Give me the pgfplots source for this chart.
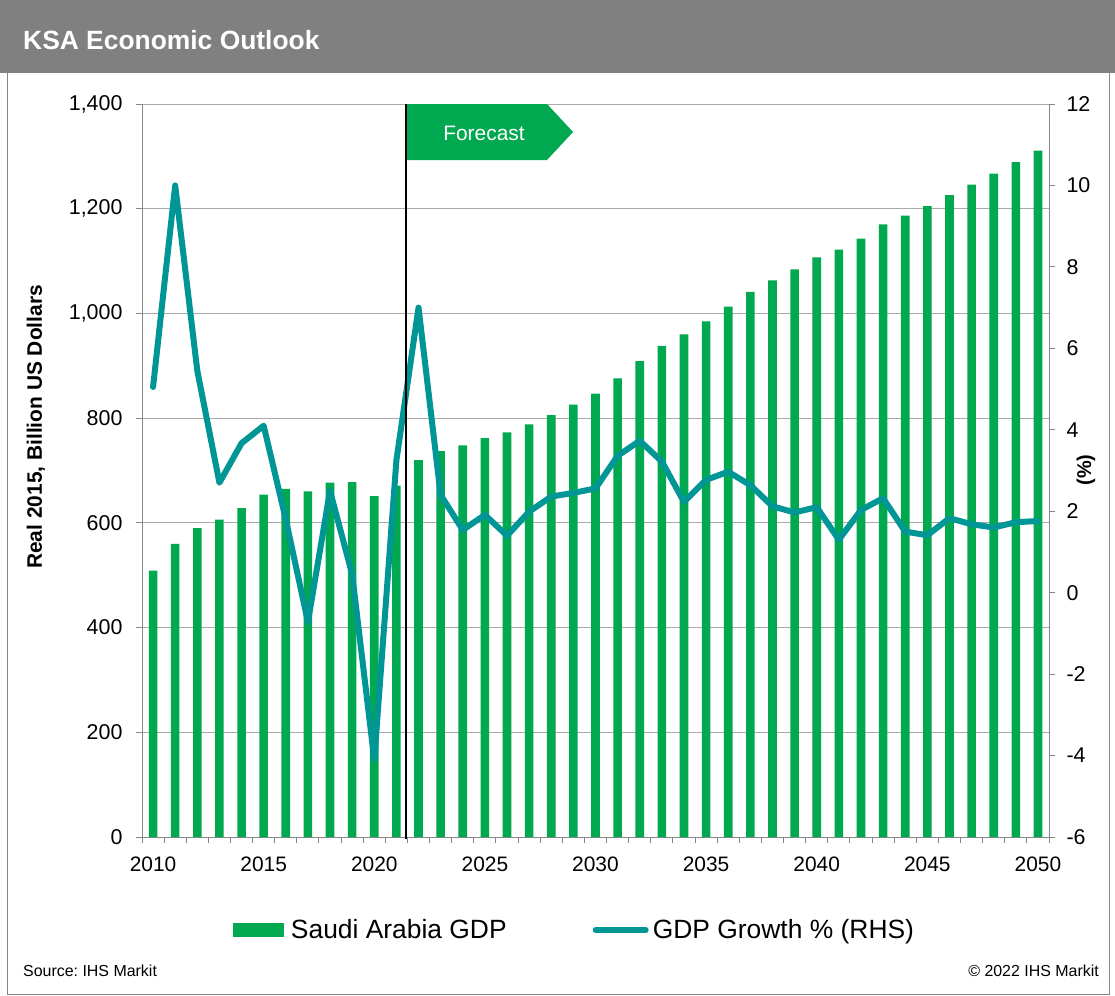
\documentclass[border=0pt]{standalone}
\usepackage{fontspec}
\setmainfont{Liberation Sans}
\usepackage{pgfplots}
\usepackage{pgfplotstable}
\pgfplotsset{compat=1.18}
\definecolor{ksagreen}{RGB}{0,168,80}
\definecolor{ksateal}{RGB}{0,150,150}
\definecolor{axisgray}{RGB}{134,134,134}
\definecolor{gridgray}{RGB}{170,170,170}
\definecolor{titlegray}{RGB}{128,128,128}
\frenchspacing

\pgfplotstableread{
year gdp growth
2010 509 5.05
2011 560 10.0
2012 590 5.45
2013 606 2.70
2014 628 3.67
2015 654 4.10
2016 665 1.80
2017 660 -0.72
2018 677 2.50
2019 678 0.45
2020 651 -4.10
2021 671 3.25
2022 720 7.0
2023 737 2.40
2024 748 1.54
2025 762 1.91
2026 773 1.40
2027 788 1.99
2028 806 2.36
2029 826 2.45
2030 847 2.56
2031 876 3.36
2032 909 3.73
2033 938 3.22
2034 960 2.23
2035 985 2.77
2036 1013 2.97
2037 1041 2.64
2038 1063 2.12
2039 1084 1.97
2040 1107 2.10
2041 1122 1.30
2042 1143 2.03
2043 1170 2.32
2044 1187 1.50
2045 1205 1.41
2046 1226 1.83
2047 1246 1.68
2048 1267 1.60
2049 1289 1.73
2050 1311 1.76
}\ksadata

\begin{document}
\begin{tikzpicture}
\path[use as bounding box] (0bp,0bp) rectangle (1115bp,-996bp);
\fill[titlegray] (0bp,0bp) rectangle (1115bp,-73bp);
\draw[axisgray, line width=1bp] (7bp,-73bp) -- (7bp,-994bp) -- (1109bp,-994bp) -- (1109bp,-73bp);
\node[anchor=west, text=white, inner sep=0pt, font=\bfseries\fontsize{26.5}{30}\selectfont] at (23bp,-40bp) {KSA Economic Outlook};

\begin{axis}[
  at={(142bp,-837bp)}, anchor=south west,
  scale only axis, width=907bp, height=733bp,
  xmin=2009.5, xmax=2050.5, ymin=0, ymax=1400,
  axis x line*=bottom, axis y line*=left,
  axis line style={axisgray, line width=1bp},
  tick align=outside,
  xtick={2010,2015,...,2050},
  major x tick style={draw=none},
  minor xtick={2009.5,2010.5,...,2050.5},
  minor x tick style={axisgray, line width=1bp},
  minor tick length=6bp,
  major tick length=6bp,
  ytick={0,200,...,1400},
  y tick style={axisgray, line width=1bp},
  ymajorgrids,
  major grid style={gridgray, line width=1bp},
  xticklabel style={font=\fontsize{21}{24}\selectfont, yshift=-10bp},
  yticklabel style={font=\fontsize{21.5}{24}\selectfont, xshift=-10bp},
  /pgf/number format/assume math mode=true,
  xticklabel={\pgfmathprintnumber[1000 sep={}]{\tick}},
  yticklabel={\pgfmathprintnumber[1000 sep={,}]{\tick}},
  legend columns=2,
  legend style={draw=none, fill=none, inner sep=0pt, outer sep=0pt,
    at={(0.1003,-0.1269)}, anchor=west,
    font=\fontsize{26.5}{30}\selectfont,
    nodes={inner sep=0pt},
    /tikz/every even column/.append style={column sep=86bp}},
]
\addplot[ybar, bar width=8.6bp, fill=ksagreen, draw=none,
  legend image code/.code={\fill[ksagreen] (0bp,-7bp) rectangle (51bp,7bp); \path (58bp,0bp);}]
  table[x=year, y=gdp] {\ksadata};
\addlegendentry{Saudi Arabia GDP}
\addlegendimage{legend image code/.code={\draw[ksateal, line width=6bp, line cap=round] (3bp,0bp) -- (53bp,0bp); \path (60bp,0bp);}}
\addlegendentry{GDP Growth \% (RHS)}
\end{axis}

\begin{axis}[
  at={(142bp,-837bp)}, anchor=south west,
  scale only axis, width=907bp, height=733bp,
  xmin=2009.5, xmax=2050.5, ymin=-6, ymax=12,
  axis x line=none, axis y line*=right,
  axis line style={axisgray, line width=1bp},
  tick align=outside,
  major tick length=6bp,
  ytick={-6,-4,...,12},
  y tick style={axisgray, line width=1bp},
  yticklabel style={font=\fontsize{21.5}{24}\selectfont, xshift=8bp},
  /pgf/number format/assume math mode=true,
]
\addplot[ksateal, line width=6bp, line join=round, line cap=round, mark=none]
  table[x=year, y=growth] {\ksadata};
\end{axis}

\fill[ksagreen] (406bp,-104bp) -- (547bp,-104bp) -- (573bp,-132bp) -- (547bp,-160bp) -- (406bp,-160bp) -- cycle;
\draw[black, line width=1.5bp] (406bp,-104bp) -- (406bp,-839bp);
\node[text=white, font=\fontsize{21}{24}\selectfont] at (484bp,-133bp) {Forecast};

\node[rotate=90, font=\bfseries\fontsize{21}{24}\selectfont] at (36bp,-427bp) {Real 2015, Billion US Dollars};
\node[rotate=90, font=\bfseries\fontsize{20}{24}\selectfont] at (1086bp,-470bp) {(\%)};

\node[anchor=base west, inner sep=0pt, font=\fontsize{16}{19}\selectfont] at (23bp,-976bp) {Source: IHS Markit};
\node[anchor=base east, inner sep=0pt, font=\fontsize{16}{19}\selectfont] at (1099bp,-976bp) {© 2022 IHS Markit};
\end{tikzpicture}
\end{document}
